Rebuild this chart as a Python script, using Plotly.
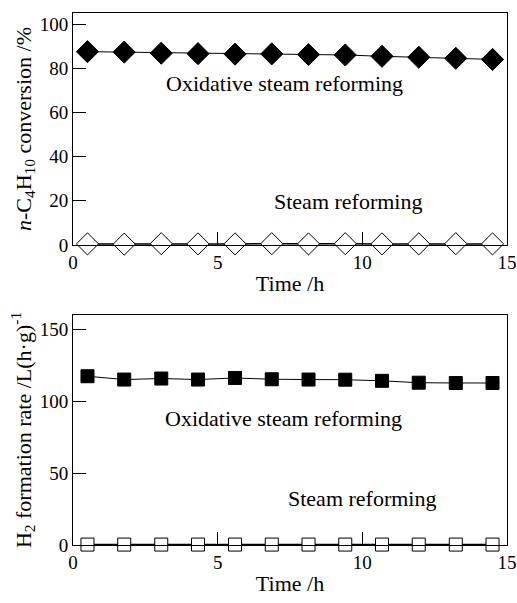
import plotly.graph_objects as go
from plotly.subplots import make_subplots

# Time on stream (h)
time_h = [0.5, 1.77, 3.05, 4.32, 5.6, 6.87, 8.14, 9.41, 10.68, 11.95, 13.23, 14.5]

# n-C4H10 conversion (%)
conv_osr = [87.5, 87.3, 86.8, 86.6, 86.4, 86.5, 86.2, 86.0, 85.4, 85.0, 84.5, 84.0]
conv_sr = [0.5, 0.4, 0.6, 0.5, 0.5, 0.6, 0.5, 0.6, 0.5, 0.5, 0.6, 0.5]

# H2 formation rate (L/(h*g))
h2_osr = [117.4, 115.1, 115.8, 115.1, 116.2, 115.3, 115.1, 115.0, 114.2, 112.9, 112.7, 112.7]
h2_sr = [0.3, 0.3, 0.3, 0.3, 0.3, 0.3, 0.3, 0.3, 0.3, 0.3, 0.3, 0.3]

x_ticks = [0, 5, 10, 15]
FONT = "Liberation Serif"

fig = make_subplots(rows=2, cols=1)

line = dict(color="black", width=1)

fig.add_trace(go.Scatter(x=time_h, y=conv_osr, mode="lines+markers", line=line,
                         marker=dict(symbol="diamond", size=17, color="black",
                                     line=dict(color="black", width=1)),
                         cliponaxis=False), row=1, col=1)
fig.add_trace(go.Scatter(x=time_h, y=conv_sr, mode="lines+markers", line=dict(color="black", width=1.5),
                         marker=dict(symbol="diamond", size=17, color="white",
                                     line=dict(color="black", width=1)),
                         cliponaxis=False), row=1, col=1)
fig.add_trace(go.Scatter(x=time_h, y=h2_osr, mode="lines+markers", line=line,
                         marker=dict(symbol="square", size=13, color="black",
                                     line=dict(color="black", width=1)),
                         cliponaxis=False), row=2, col=1)
fig.add_trace(go.Scatter(x=time_h, y=h2_sr, mode="lines+markers", line=dict(color="black", width=1.5),
                         marker=dict(symbol="square", size=13, color="white",
                                     line=dict(color="black", width=1)),
                         cliponaxis=False), row=2, col=1)

W, H = 517, 603
x_dom = [73 / W, 507 / W]
top_dom = [1 - 245 / H, 1 - 13 / H]
bot_dom = [1 - 545 / H, 1 - 315 / H]

tick_font = dict(family=FONT, size=19, color="black")
title_font = dict(family=FONT, size=22, color="black")

axis_common = dict(showline=True, linecolor="black", linewidth=1, mirror=True,
                   ticks="inside", tickcolor="black", ticklen=13, tickwidth=1,
                   showgrid=False, zeroline=False, tickfont=tick_font,
                   automargin=False)

fig.update_xaxes(range=[0, 15], tickvals=x_ticks, domain=x_dom,
                 title=dict(text="Time /h", font=title_font, standoff=3), **axis_common)
fig.update_yaxes(**axis_common)
fig.update_layout(
    yaxis=dict(range=[0, 105], tickvals=[0, 20, 40, 60, 80, 100], domain=top_dom,
               title=dict(text="<i>n</i>-C<sub>4</sub>H<sub>10</sub> conversion /%",
                          font=title_font, standoff=2)),
    yaxis2=dict(range=[0, 160], tickvals=[0, 50, 100, 150], domain=bot_dom,
                title=dict(text="H<sub>2</sub> formation rate /L(h·g)<sup>-1</sup>",
                           font=title_font, standoff=2)),
)

ann_font = dict(family=FONT, size=22, color="black")
annotations = [
    dict(text="Oxidative steam reforming", x=7.3, y=73.2, xref="x", yref="y", showarrow=False, font=ann_font),
    dict(text="Steam reforming", x=9.5, y=19.5, xref="x", yref="y", showarrow=False, font=ann_font),
    dict(text="Oxidative steam reforming", x=7.26, y=88, xref="x2", yref="y2", showarrow=False, font=ann_font),
    dict(text="Steam reforming", x=10.0, y=32.6, xref="x2", yref="y2", showarrow=False, font=ann_font),
]

fig.update_layout(
    width=W, height=H,
    margin=dict(l=0, r=0, t=0, b=0),
    paper_bgcolor="white", plot_bgcolor="white",
    showlegend=False,
    annotations=annotations,
    font=dict(family=FONT, color="black"),
)

fig.write_html("out.html")
